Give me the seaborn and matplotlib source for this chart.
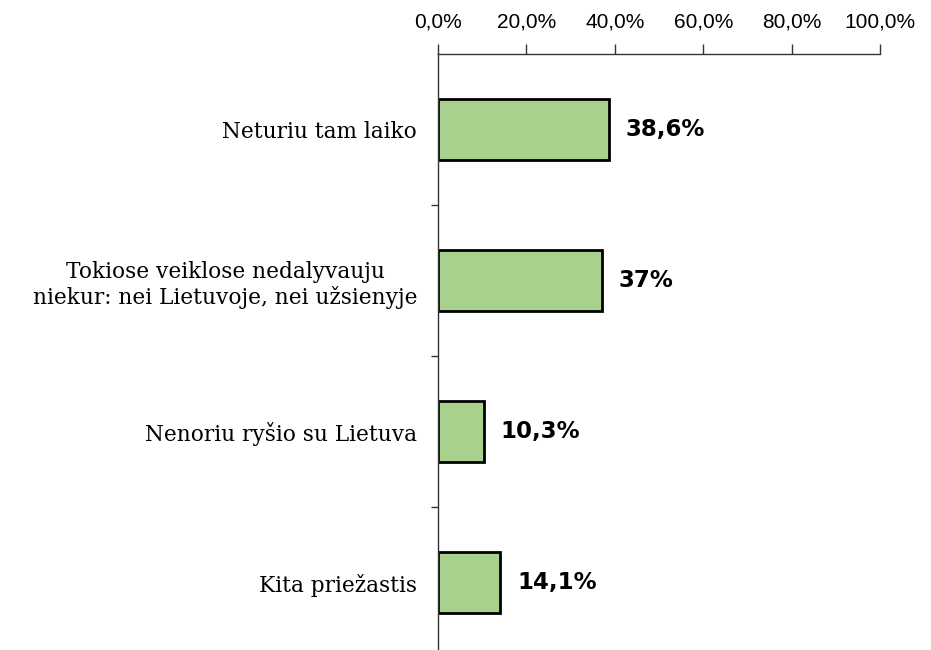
import matplotlib
matplotlib.use("Agg")
import matplotlib.pyplot as plt
import seaborn as sns
import pandas as pd
from matplotlib.ticker import FixedLocator, FuncFormatter

categories = [
    "Neturiu tam laiko",
    "Tokiose veiklose nedalyvauju\nniekur: nei Lietuvoje, nei užsienyje",
    "Nenoriu ryšio su Lietuva",
    "Kita priežastis",
]
values = [38.6, 37.0, 10.3, 14.1]
value_labels = ["38,6%", "37%", "10,3%", "14,1%"]
x_ticks = [0, 20, 40, 60, 80, 100]

df = pd.DataFrame({"kategorija": categories, "procentai": values})

sns.set_style("white")
plt.rcParams["text.color"] = "black"
plt.rcParams["xtick.labelcolor"] = "black"
plt.rcParams["ytick.labelcolor"] = "black"

fig = plt.figure(figsize=(9.31, 6.5), dpi=100)
ax = fig.add_axes([0.4705, 0.0, 0.4747, 0.9169])

sns.barplot(data=df, x="procentai", y="kategorija", orient="h", ax=ax,
            color="#a9d18e", saturation=1, width=0.4,
            edgecolor="black", linewidth=2)

ax.set_xlim(0, 100)
ax.set_ylim(3.447, -0.5)

# x axis on top
ax.xaxis.tick_top()
ax.set_xticks(x_ticks)
ax.xaxis.set_major_formatter(FuncFormatter(lambda v, p: f"{v:.1f}%".replace(".", ",")))
ax.tick_params(axis="x", direction="out", length=7, width=1, color="#333333",
               pad=9, labelsize=15, labelcolor="black", top=True, bottom=False)
for lab in ax.get_xticklabels():
    lab.set_family("Liberation Sans")

# y axis: ticks between categories
ax.set_yticks(range(len(categories)))
ax.set_yticklabels(categories, family="DejaVu Serif", fontsize=15.6,
                   multialignment="center", color="black")
ax.yaxis.set_minor_locator(FixedLocator([0.5, 1.5, 2.5]))
ax.tick_params(axis="y", which="major", length=0, pad=15)
ax.tick_params(axis="y", which="minor", length=5, width=1, color="#333333", left=True)

for s in ["right", "bottom"]:
    ax.spines[s].set_visible(False)
for s in ["left", "top"]:
    ax.spines[s].set_color("#333333")
    ax.spines[s].set_linewidth(1)

ax.set_xlabel("")
ax.set_ylabel("")

for i, (v, t) in enumerate(zip(values, value_labels)):
    ax.annotate(t, xy=(v, i), xytext=(12, 0), textcoords="offset points",
                va="center", ha="left", fontsize=16.5, fontweight="bold",
                family="DejaVu Sans", color="black")

fig.savefig("out.png", dpi=100)
